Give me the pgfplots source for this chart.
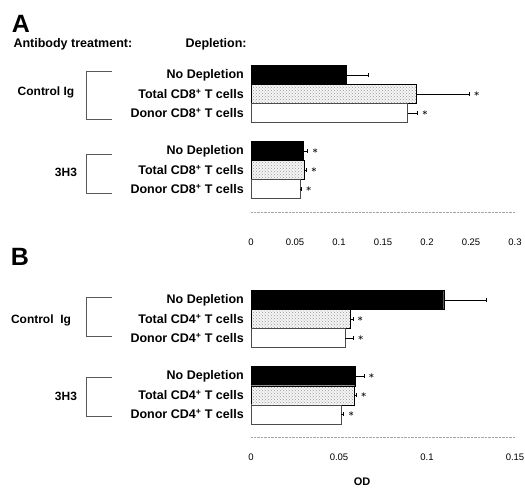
\documentclass[border=0pt]{standalone}
\usepackage{pgfplots}
\pgfplotsset{compat=1.18}
\usepackage{fontspec}
\setmainfont{Liberation Sans}
\usetikzlibrary{patterns}

% shared look of both panels
\pgfplotsset{
  odpanel/.style={
    xbar, bar shift=0pt, bar width=19pt,
    y=19pt, ymin=-7.2, ymax=0.6, xmin=0,
    anchor=south west,
    axis x line*=bottom, axis y line*=left,
    y axis line style={draw=none},
    x axis line style={gray!70, densely dotted},
    major tick length=0pt,
    ytick={0,-1,-2,-4,-5,-6},
    yticklabel style={font=\fontsize{12.5}{14}\selectfont\bfseries, inner sep=0pt, xshift=-7pt},
    xticklabel style={font=\fontsize{9.5}{11}\selectfont, inner sep=0pt, anchor=north},
    /pgf/number format/assume math mode=true,
    clip=false,
  },
  blackbar/.style={fill=black, draw=black,
    error bars/.cd, x dir=plus, x explicit, error bar style={black, line width=0.6pt}},
  dotbar/.style={fill=gray!8, draw=black, postaction={pattern=crosshatch dots, pattern color=gray!80},
    error bars/.cd, x dir=plus, x explicit, error bar style={black, line width=0.6pt}},
  whitebar/.style={fill=white, draw=gray!60!black,
    error bars/.cd, x dir=plus, x explicit, error bar style={black, line width=0.6pt}},
  stars/.style={draw=none, fill=none, nodes near coords={$\ast$},
    every node near coord/.style={anchor=west, inner sep=4.5pt, font=\normalsize\boldmath, text=black}},
}

\begin{document}
\begin{tikzpicture}
\path[use as bounding box] (0,0) rectangle (525pt,488pt);

%% ---------- panel A ----------
\node[font=\fontsize{25}{28}\selectfont\bfseries] at (21pt,464pt) {A};
\node[anchor=west, font=\fontsize{12.5}{14}\selectfont\bfseries] at (10pt,444pt) {Antibody treatment:};
\node[anchor=west, font=\fontsize{12.5}{14}\selectfont\bfseries] at (182pt,444pt) {Depletion:};

\begin{axis}[odpanel, at={(251pt,276pt)}, x=880pt, xmax=0.3,
  xtick={0,0.05,0.1,0.15,0.2,0.25,0.3},
  xticklabels={0,0.05,0.1,0.15,0.2,0.25,0.3},
  xticklabel style={yshift=-27pt},
  yticklabels={No Depletion, Total CD8\textsuperscript{+} T cells, Donor CD8\textsuperscript{+} T cells,
               No Depletion, Total CD8\textsuperscript{+} T cells, Donor CD8\textsuperscript{+} T cells}]
\addplot[blackbar] coordinates {(0.1087,0) +- (0.0246,0) (0.0595,-4) +- (0.0049,0)};
\addplot[dotbar]   coordinates {(0.1875,-1) +- (0.0605,0) (0.0606,-5) +- (0.0024,0)};
\addplot[whitebar] coordinates {(0.1780,-2) +- (0.0110,0) (0.0560,-6) +- (0.0010,0)};
\addplot[stars] coordinates {(0.2480,-1) (0.1890,-2) (0.0644,-4) (0.0630,-5) (0.0570,-6)};
\end{axis}

\node[font=\fontsize{12}{14}\selectfont\bfseries] at (46pt,396pt) {Control Ig};
\node[font=\fontsize{12}{14}\selectfont\bfseries] at (66pt,316pt) {3H3};
\draw[gray!70!black, line width=0.5pt] (112pt,417pt) -- (86pt,417pt) -- (86pt,369pt) -- (112pt,369pt);
\draw[gray!70!black, line width=0.5pt] (112pt,334pt) -- (86pt,334pt) -- (86pt,295pt) -- (112pt,295pt);

%% ---------- panel B ----------
\node[font=\fontsize{25}{28}\selectfont\bfseries] at (20pt,231pt) {B};

\begin{axis}[odpanel, at={(251pt,51pt)}, x=1760pt, xmax=0.15,
  xtick={0,0.05,0.1,0.15},
  xticklabels={0,0.05,0.1,0.15},
  xticklabel style={yshift=-16.5pt},
  yticklabels={No Depletion, Total CD4\textsuperscript{+} T cells, Donor CD4\textsuperscript{+} T cells,
               No Depletion, Total CD4\textsuperscript{+} T cells, Donor CD4\textsuperscript{+} T cells}]
\addplot[blackbar] coordinates {(0.1095,0) +- (0.0239,0) (0.0591,-4) +- (0.0051,0)};
\addplot[dotbar]   coordinates {(0.0565,-1) +- (0.0013,0) (0.0584,-5) +- (0.0013,0)};
\addplot[whitebar] coordinates {(0.0536,-2) +- (0.0045,0) (0.0513,-6) +- (0.0013,0)};
\addplot[stars] coordinates {(0.0578,-1) (0.0581,-2) (0.0642,-4) (0.0597,-5) (0.0526,-6)};
\end{axis}

\node[font=\fontsize{12}{14}\selectfont\bfseries] at (41pt,168pt) {Control\ \ Ig};
\node[font=\fontsize{12}{14}\selectfont\bfseries] at (66pt,92pt) {3H3};
\draw[gray!70!black, line width=0.5pt] (112pt,191pt) -- (86pt,191pt) -- (86pt,152pt) -- (112pt,152pt);
\draw[gray!70!black, line width=0.5pt] (112pt,111pt) -- (86pt,111pt) -- (86pt,72pt) -- (112pt,72pt);

\node[font=\fontsize{11}{13}\selectfont\bfseries] at (362pt,6pt) {OD};
\end{tikzpicture}
\end{document}
